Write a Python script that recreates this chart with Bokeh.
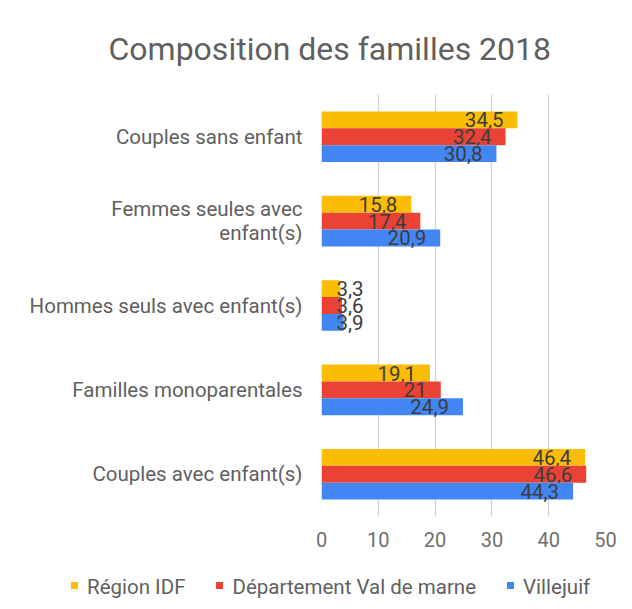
from bokeh.plotting import figure
from bokeh.layouts import column
from bokeh.models import ColumnDataSource, Range1d, FixedTicker, Div
from bokeh.transform import dodge
from bokeh.core.properties import value
from bokeh.embed import file_html
from bokeh.resources import INLINE

# ---- data ----
categories = ["Couples sans enfant", "Femmes seules avec enfant(s)",
              "Hommes seuls avec enfant(s)", "Familles monoparentales",
              "Couples avec enfant(s)"]
# how each category label is wrapped on screen
category_lines = [["Couples sans enfant"], ["Femmes seules avec", "enfant(s)"],
                  ["Hommes seuls avec enfant(s)"], ["Familles monoparentales"],
                  ["Couples avec enfant(s)"]]
region_idf = [34.5, 15.8, 3.3, 19.1, 46.4]
val_de_marne = [32.4, 17.4, 3.6, 21, 46.6]
villejuif = [30.8, 20.9, 3.9, 24.9, 44.3]
series_names = ["Région IDF", "Département Val de marne", "Villejuif"]
x_ticks = [0, 10, 20, 30, 40, 50]
title_text = "Composition des familles 2018"

# ---- styling ----
FONT = "Roboto"
colors = ["#fbbc04", "#ea4335", "#4285f4"]
offsets = [0.2, 0.0, -0.2]
W, H, HL = 630, 560, 47
FL, FR, FT, FB = 321, 605, 92, 516      # frame edges in canvas px

n = len(categories)
slot = [n - i - 0.5 for i in range(n)]   # category slot centres, top to bottom

p = figure(width=W, height=H, title=title_text,
           y_range=Range1d(0, n), x_range=Range1d(0, 50),
           output_backend="svg", toolbar_location=None,
           min_border_left=FL, min_border_right=W - FR,
           min_border_top=FT, min_border_bottom=H - FB)
p.outline_line_color = None
p.background_fill_color = "white"
p.border_fill_color = "white"

# title
p.title.text_font = FONT
p.title.text_font_size = "32px"
p.title.text_font_style = "normal"
p.title.text_color = "#5f5f5f"
p.title.align = "left"
p.title.offset = 108 - FL
p.title.vertical_align = "bottom"
p.title.standoff = 54

p.ygrid.grid_line_color = None
p.xgrid.grid_line_color = "#d3d3d3"
p.xgrid.grid_line_width = 1.3
p.xaxis.ticker = x_ticks
for ax in (p.xaxis, p.yaxis):
    ax.axis_line_color = None
    ax.major_tick_line_color = None
    ax.minor_tick_line_color = None
    ax.major_tick_out = 0
    ax.major_tick_in = 0
    ax.major_label_text_font = FONT
p.xaxis.major_label_text_font_size = "20px"
p.xaxis.major_label_text_color = "#6f6f6f"
p.xaxis.major_label_standoff = 15

# category labels (wrapped like the original)
line_step = 24.0 / ((FB - FT) / n)
tick_pos, overrides = [], {}
for c, lines in zip(slot, category_lines):
    k = len(lines)
    for j, txt in enumerate(lines):
        pos = round(c + ((k - 1) / 2 - j) * line_step, 4)
        tick_pos.append(pos)
        overrides[pos] = txt
p.yaxis.ticker = FixedTicker(ticks=tick_pos)
p.yaxis.major_label_overrides = overrides
p.yaxis.major_label_text_font_size = "20.5px"
p.yaxis.major_label_text_color = "#5f5f5f"
p.yaxis.major_label_standoff = 19

def fmt(v):
    return ("%g" % v).replace(".", ",")

for vals, name, col, off in zip([region_idf, val_de_marne, villejuif],
                                series_names, colors, offsets):
    src = ColumnDataSource(dict(y=slot, v=vals))
    p.hbar(y=dodge("y", off), right="v", left=0,
           height=0.2, source=src, fill_color=col, line_color=None)
    big = [i for i, v in enumerate(vals) if v >= 10]
    small = [i for i, v in enumerate(vals) if v < 10]
    sb = ColumnDataSource(dict(y=[slot[i] for i in big],
                               v=[vals[i] for i in big],
                               t=[fmt(vals[i]) for i in big]))
    p.text(x="v", y=dodge("y", off), text="t", source=sb,
           text_align="right", text_baseline="middle", x_offset=-14,
           text_font=value(FONT), text_font_size="20.5px",
           text_color="#3d3d3d")
    ss = ColumnDataSource(dict(y=[slot[i] for i in small],
                               z=[0 for i in small],
                               t=[fmt(vals[i]) for i in small]))
    p.text(x="z", y=dodge("y", off), text="t", source=ss,
           text_align="left", text_baseline="middle", x_offset=15,
           text_font=value(FONT), text_font_size="20.5px",
           text_color="#3d3d3d")

# ---- legend row below the chart ----
parts = []
for k, (name, col) in enumerate(zip(series_names, colors)):
    ml = 71 if k == 0 else 31
    parts.append(
        f'<span style="display:inline-block;width:7px;height:7px;'
        f'background:{col};margin:0 9px 0 {ml}px;vertical-align:middle;'
        f'position:relative;top:-1px"></span>'
        f'<span style="vertical-align:middle">{name}</span>')
legend_html = (f'<div style="font-family:{FONT};font-size:20.5px;'
               f'color:#5f5f5f;line-height:24px;padding-top:13px;'
               f'white-space:nowrap;margin:0">' + "".join(parts) + '</div>')
leg = Div(text=legend_html, width=W, height=HL, margin=0)

open("out.html", "w").write(file_html(column(p, leg, spacing=0), INLINE))
